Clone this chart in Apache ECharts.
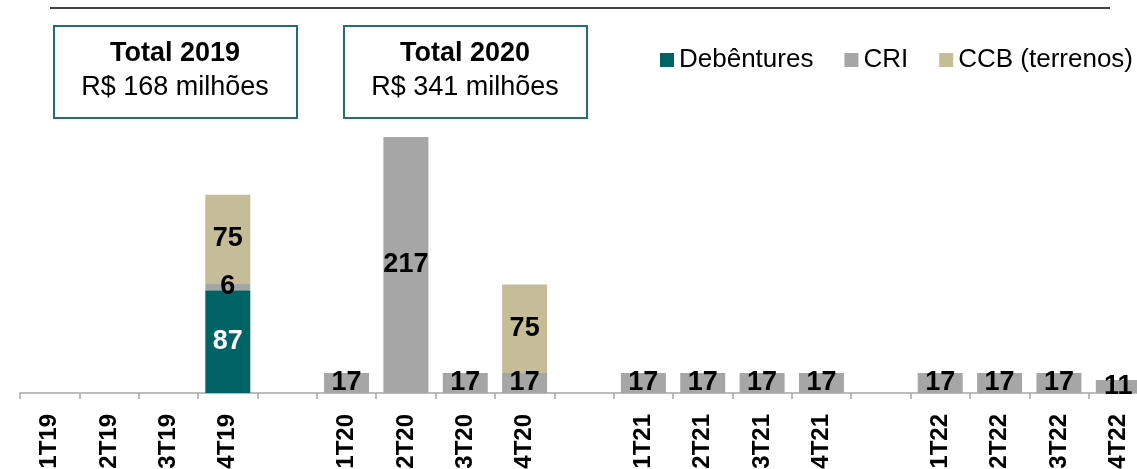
<!DOCTYPE html>
<html>
<head>
<meta charset="utf-8">
<title>Emissões</title>
<script src="https://cdn.jsdelivr.net/npm/echarts@6/dist/echarts.min.js"></script>
<style>
  html, body { margin: 0; padding: 0; background: #fff; }
  #chart { width: 1137px; height: 469px; }
</style>
</head>
<body>
<div id="chart"></div>
<script>
// blank entries are the gaps between years
const quarters = ['1T19', '2T19', '3T19', '4T19', ' ',
  '1T20', '2T20', '3T20', '4T20', '  ',
  '1T21', '2T21', '3T21', '4T21', '   ',
  '1T22', '2T22', '3T22', '4T22'];

const debentures = [null, null, null, 87, null, null, null, null, null, null, null, null, null, null, null, null, null, null, null];
const cri = [null, null, null, 6, null, 17, 217, 17, 17, null, 17, 17, 17, 17, null, 17, 17, 17, 11];
const ccb = [null, null, null, 75, null, null, null, null, 75, null, null, null, null, null, null, null, null, null, null];

const totals = [
  { title: 'Total 2019', value: 'R$ 168 milhões' },
  { title: 'Total 2020', value: 'R$ 341 milhões' }
];

const FONT = "'Liberation Sans', Arial, sans-serif";

const chart = echarts.init(document.getElementById('chart'));

function barLabel(color) {
  return {
    show: true,
    position: 'inside',
    color: color,
    fontFamily: FONT,
    fontWeight: 'bold',
    fontSize: 27,
    formatter: p => (p.value == null ? '' : p.value)
  };
}

function totalBox(t, x) {
  return {
    type: 'group',
    left: x,
    top: 25,
    children: [
      {
        type: 'rect',
        shape: { x: 0, y: 0, width: 243, height: 92 },
        style: { fill: '#fff', stroke: '#21706f', lineWidth: 2 }
      },
      {
        type: 'text',
        x: 121, y: 28,
        style: { text: t.title, font: 'bold 27px ' + FONT, fill: '#000', align: 'center', verticalAlign: 'middle' }
      },
      {
        type: 'text',
        x: 121, y: 62,
        style: { text: t.value, font: '27px ' + FONT, fill: '#000', align: 'center', verticalAlign: 'middle' }
      }
    ]
  };
}

chart.setOption({
  animation: false,
  textStyle: { fontFamily: FONT },
  legend: {
    left: 660,
    top: 47,
    width: 700,
    padding: 0,
    itemWidth: 14,
    itemHeight: 14,
    itemGap: 31,
    icon: 'rect',
    textStyle: { fontSize: 26, color: '#000', fontFamily: FONT },
    data: ['Debêntures', 'CRI', 'CCB (terrenos)']
  },
  graphic: [
    {
      type: 'line',
      shape: { x1: 50, y1: 8, x2: 1110, y2: 8 },
      style: { stroke: '#000', lineWidth: 1.5 }
    },
    totalBox(totals[0], 53),
    totalBox(totals[1], 343)
  ],
  grid: { left: 20, width: 1128, top: 39, bottom: 76, outerBoundsMode: 'none', containLabel: false },
  xAxis: {
    type: 'category',
    data: quarters,
    axisLine: { lineStyle: { color: '#a6a6a6', width: 1.5 } },
    axisTick: { show: true, length: 6, lineStyle: { color: '#a6a6a6', width: 1.5 } },
    axisLabel: {
      rotate: 90,
      margin: 21,
      interval: 0,
      color: '#000',
      fontFamily: FONT,
      fontWeight: 'bold',
      fontSize: 24
    }
  },
  yAxis: {
    type: 'value',
    min: 0,
    max: 300,
    show: false,
    splitLine: { show: false }
  },
  series: [
    {
      name: 'Debêntures',
      type: 'bar',
      stack: 'total',
      barWidth: 45,
      data: debentures,
      itemStyle: { color: '#006466' },
      label: barLabel('#fff')
    },
    {
      name: 'CRI',
      type: 'bar',
      stack: 'total',
      barWidth: 45,
      data: cri,
      itemStyle: { color: '#a6a6a6' },
      label: barLabel('#000')
    },
    {
      name: 'CCB (terrenos)',
      type: 'bar',
      stack: 'total',
      barWidth: 45,
      data: ccb,
      itemStyle: { color: '#c4bd97' },
      label: barLabel('#000')
    }
  ]
});
</script>
</body>
</html>
